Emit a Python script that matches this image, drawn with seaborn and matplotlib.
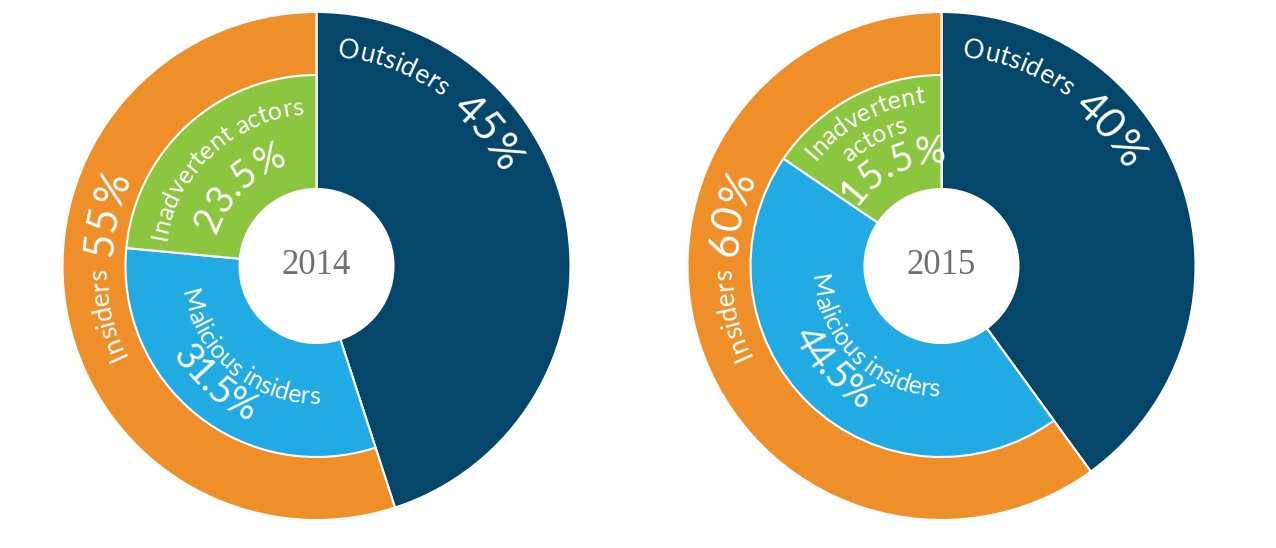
import numpy as np
import matplotlib
matplotlib.use("Agg")
import matplotlib.pyplot as plt
from matplotlib.font_manager import FontProperties
import seaborn as sns

# data
years = ["2014", "2015"]
outsiders = [45, 40]
insiders = [55, 60]
malicious = [31.5, 44.5]
inadvertent = [23.5, 15.5]

sns.set_theme(style="white")
plt.rcParams["font.family"] = ["Lato", "DejaVu Sans"]

navy, orange, blue, green = sns.color_palette(["#03466a", "#ee8f2a", "#22abe2", "#8cc540"])
gray = "#6f6f71"

W, H = 1276, 548
fig = plt.figure(figsize=(W / 100, H / 100), dpi=100)
ax = fig.add_axes([0, 0, 1, 1])
rend = fig.canvas.get_renderer()

R_OUT, R_MID, R_HOLE = 254, 191, 77
centers = [(316.5, H - 266), (941.5, H - 266)]
edge = dict(edgecolor="white", linewidth=1.5)


def arc_text(cx, cy, r, mid, s, size, cw=True):
    # place characters one by one along a circle
    prop = FontProperties(family=["Lato", "DejaVu Sans"], weight="normal", size=size)

    def tw(t):
        return rend.get_text_width_height_descent(t, prop, ismath=False)[0]

    ref = tw("l")
    starts = [0.0] + [tw(s[:k] + "l") - ref for k in range(1, len(s) + 1)]
    total = starts[-1]
    sign = -1 if cw else 1
    for k, c in enumerate(s):
        d = (starts[k] + starts[k + 1]) / 2 - total / 2
        th = np.radians(mid) + sign * d / r
        rot = np.degrees(th) - 90 if cw else np.degrees(th) + 90
        ax.text(cx + r * np.cos(th), cy + r * np.sin(th), c, rotation=rot,
                rotation_mode="anchor", ha="center", va="baseline",
                fontproperties=prop, color="white")


def pct(v):
    return f"{v:g}%"


for i, (cx, cy) in enumerate(centers):
    ax.pie([outsiders[i], insiders[i]], radius=R_OUT, center=(cx, cy),
           startangle=90, counterclock=False, colors=[navy, orange],
           wedgeprops=dict(width=R_OUT - R_HOLE, **edge), frame=True)
    inner, _ = ax.pie([outsiders[i], malicious[i], inadvertent[i]], radius=R_MID,
                      center=(cx, cy), startangle=90, counterclock=False,
                      colors=[navy, blue, green],
                      wedgeprops=dict(width=R_MID - R_HOLE, **edge), frame=True)
    inner[0].set_visible(False)
    ax.text(cx, cy, years[i], ha="center", va="center", fontsize=25,
            family="Liberation Serif", color=gray)

    arc_text(cx, cy, 210, 69, "Outsiders", 19)
    arc_text(cx, cy, 205, 38 if i == 0 else 39, pct(outsiders[i]), 30)
    arc_text(cx, cy, 210, 193, "Insiders", 19)
    arc_text(cx, cy, 205, 166, pct(insiders[i]), 30)

# 2014 inner labels
cx, cy = centers[0]
arc_text(cx, cy, 152, 132.7, "Inadvertent actors", 18)
arc_text(cx, cy, 105, 134.3, pct(inadvertent[0]), 27)
arc_text(cx, cy, 138, 231, "Malicious insiders", 18, cw=False)
arc_text(cx, cy, 170, 229, pct(malicious[0]), 27, cw=False)

# 2015 inner labels
cx, cy = centers[1]
arc_text(cx, cy, 164, 118, "Inadvertent", 18)
arc_text(cx, cy, 138, 118, "actors", 18)
arc_text(cx, cy, 103, 116.5, pct(inadvertent[1]), 27)
arc_text(cx, cy, 131, 226.7, "Malicious insiders", 18, cw=False)
arc_text(cx, cy, 164, 223, pct(malicious[1]), 27, cw=False)

ax.set_xlim(0, W)
ax.set_ylim(0, H)
ax.set_aspect("equal")
ax.axis("off")
fig.savefig("out.png", dpi=100, facecolor="white")
